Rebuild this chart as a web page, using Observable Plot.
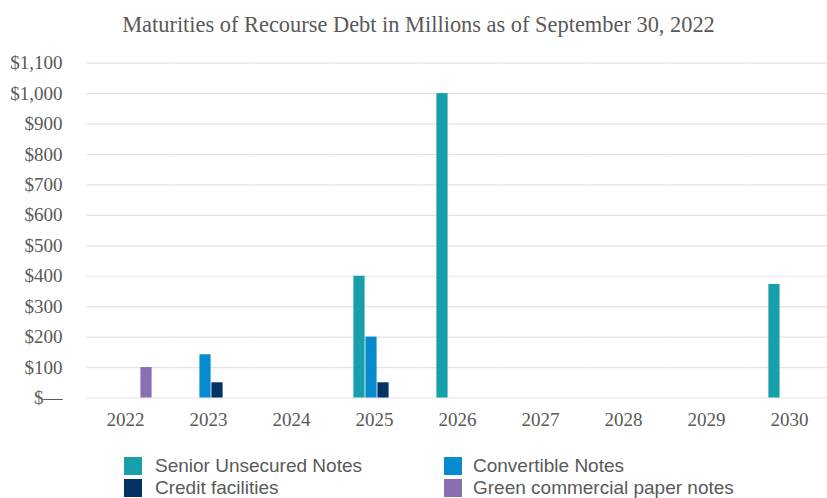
<!DOCTYPE html>
<html>
<head>
<meta charset="utf-8">
<script src="https://cdn.jsdelivr.net/npm/d3@7"></script>
<script src="https://cdn.jsdelivr.net/npm/@observablehq/plot@0.6"></script>
<style>
  html, body { margin: 0; padding: 0; background: #fff; }
  #wrap { position: relative; width: 827px; height: 498px; overflow: hidden; }
  #title { position: absolute; left: 5px; top: 12px; width: 827px; text-align: center;
           font-family: "Liberation Serif", "Times New Roman", serif; font-size: 22.4px; line-height: 26px; color: #595959; white-space: nowrap; }
  #chart { position: absolute; left: 0; top: 48px; }
  #chart svg text { font-family: "Liberation Serif", "Times New Roman", serif; }
  .leg { position: absolute; font-family: "Liberation Sans", Arial, sans-serif; font-size: 19px; line-height: 22px; color: #595959; white-space: nowrap; }
  .sw { position: absolute; width: 18px; height: 18px; }
</style>
</head>
<body>
<div id="wrap">
  <div id="title">Maturities of Recourse Debt in Millions as of September 30, 2022</div>
  <div id="chart"></div>
  <div id="legend"></div>
</div>
<script>
const years = ["2022", "2023", "2024", "2025", "2026", "2027", "2028", "2029", "2030"];
const seriesNames = ["Senior Unsecured Notes", "Convertible Notes", "Credit facilities", "Green commercial paper notes"];
const seriesColors = ["#189fac", "#068ad0", "#043264", "#8a6eb2"];
const seniorUnsecured = [0, 0, 0, 400, 1000, 0, 0, 0, 373];
const convertibleNotes = [0, 142, 0, 200, 0, 0, 0, 0, 0];
const creditFacilities = [0, 50, 0, 50, 0, 0, 0, 0, 0];
const greenCommercialPaper = [100, 0, 0, 0, 0, 0, 0, 0, 0];
const yTicks = [0, 100, 200, 300, 400, 500, 600, 700, 800, 900, 1000, 1100];

const seriesValues = [seniorUnsecured, convertibleNotes, creditFacilities, greenCommercialPaper];
const rows = [];
seriesValues.forEach((vals, si) => {
  vals.forEach((v, yi) => {
    rows.push({year: years[yi], series: seriesNames[si], value: v});
  });
});

const fmt = d => d === 0 ? "$\u2014" : "$" + d3.format(",")(d);
const serif = "Liberation Serif, Times New Roman, serif";

const chart = Plot.plot({
  width: 827,
  height: 410,
  marginLeft: 86,
  marginRight: 0,
  marginTop: 14.7,
  marginBottom: 60.5,
  style: {fontFamily: serif, fontSize: "19px", color: "#595959", background: "transparent"},
  fx: {domain: years, paddingInner: 0.4217, paddingOuter: 0.175, align: 0.62, round: false, label: null},
  x: {domain: seriesNames, padding: 0, round: false, axis: null},
  y: {domain: [0, 1100], ticks: yTicks, label: null},
  color: {domain: seriesNames, range: seriesColors},
  marks: [
    Plot.ruleY(yTicks, {stroke: "#e4e4e4", strokeWidth: 1.2, insetLeft: -17.5, insetRight: -17.5}),
    Plot.axisY({ticks: yTicks, tickSize: 0, tickPadding: 42, tickFormat: fmt, label: null, fill: "#595959", fontSize: 19, fontFamily: serif}),
    Plot.axisFx({anchor: "bottom", tickSize: 0, tickPadding: 14, dx: -3, label: null, fill: "#595959", fontSize: 19, fontFamily: serif}),
    Plot.barY(rows.filter(d => d.value > 0), {fx: "year", x: "series", y: "value", fill: "series", insetLeft: 0.4, insetRight: 0.4}),
    Plot.barY(rows.filter(d => d.value === 0), {fx: "year", x: "series", y: "value", fill: "none"})
  ]
});
document.getElementById("chart").appendChild(chart);

// Legend
const legend = document.getElementById("legend");
const legPos = [
  {sx: 124, tx: 155, top: 455},
  {sx: 444, tx: 473, top: 455},
  {sx: 124, tx: 155, top: 477},
  {sx: 444, tx: 473, top: 477}
];
seriesNames.forEach((name, i) => {
  const p = legPos[i];
  const sw = document.createElement("div");
  sw.className = "sw";
  sw.style.left = p.sx + "px";
  sw.style.top = (p.top + 2) + "px";
  sw.style.background = seriesColors[i];
  legend.appendChild(sw);
  const t = document.createElement("div");
  t.className = "leg";
  t.style.left = p.tx + "px";
  t.style.top = p.top + "px";
  t.textContent = name;
  legend.appendChild(t);
});
</script>
</body>
</html>
